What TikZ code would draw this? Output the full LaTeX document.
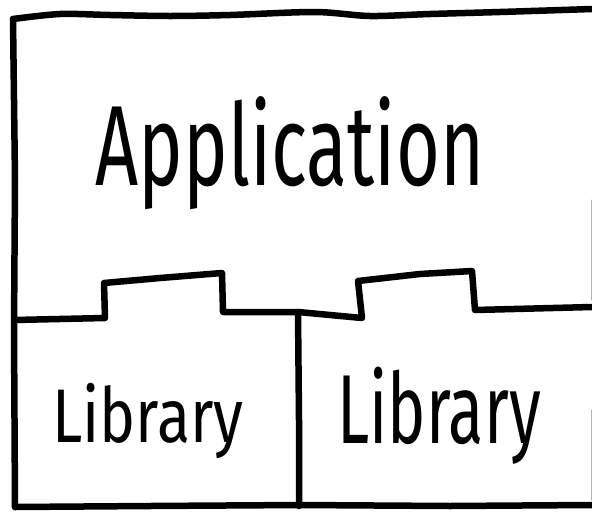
\documentclass[tikz,border=0pt]{standalone}
\usepackage{fontspec}
\setmainfont{Fira Sans}
\newcommand{\squeeze}[2]{\scalebox{#1}[1]{#2}}
\begin{document}
\begin{tikzpicture}[x=1pt, y=-1pt,
    sketch/.style={line width=6.5pt, line cap=round, line join=round},
    word/.style={inner sep=0pt, anchor=base}]
    \useasboundingbox (0,0) rectangle (592,512);
    % outer frame
    \draw[sketch] plot[smooth] coordinates {(13,19) (60,14) (110,15) (170,16) (230,15) (315,12) (370,16) (430,14) (500,12) (592,9)};
    \draw[sketch] (13,19) -- (15,180) -- (14,330) -- (15,507);
    \draw[sketch] (15,507) -- (150,506) -- (300,505) -- (450,506) -- (592,505);
    \draw[sketch, line width=1pt, gray!60] (591.5,200) -- (591.5,300);
    \draw[sketch, line width=1pt, gray!60] (591.5,410) -- (591.5,500);
    % library tabs
    \draw[sketch] (14,320) -- (105,318) -- (104,283) -- (160,278) -- (222,273)
        -- (223,312) -- (298,312) -- (362,318) -- (358,281) -- (420,274)
        -- (472,271) -- (475,310) -- (592,307);
    \draw[sketch] (298,312) -- (299,420) -- (299,506);
    % labels
    \node[word, font=\fontsize{114}{114}\selectfont] (app) at (290,185) {\squeeze{0.66}{Application}};
    \node[word, font=\fontsize{76}{76}\selectfont] (libleft) at (148,442) {\squeeze{0.8}{Library}};
    \node[word, font=\fontsize{98}{98}\selectfont] (libright) at (439,443) {\squeeze{0.66}{Library}};
\end{tikzpicture}
\end{document}
